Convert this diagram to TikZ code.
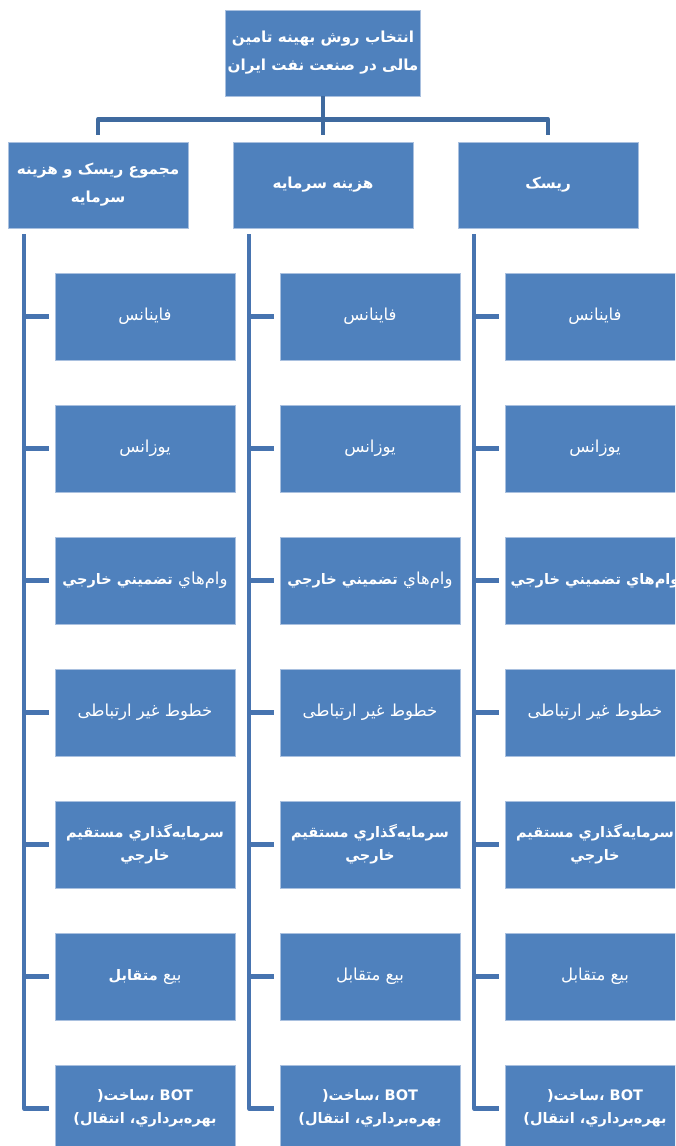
\documentclass[tikz,border=0pt]{standalone}
\usepackage{fontspec}
\usetikzlibrary{positioning,calc}
\TeXXeTstate=1
\newfontfamily\fa[Script=Arabic]{DejaVu Sans}
\definecolor{boxblue}{HTML}{4F81BD}
\definecolor{boxline}{HTML}{A9C0DF}
\definecolor{barblue}{HTML}{3F6A9F}
\definecolor{colblue}{HTML}{4774B0}
\newcommand{\rl}[1]{\beginR #1\endR}
\newcommand{\B}[1]{{\bfseries\fontsize{14.5}{23}\selectfont #1}}
\tikzset{
 tbox/.style={fill=boxblue,draw=boxline,line width=.6pt,text=white,
  minimum width=180pt,minimum height=87pt,inner sep=2pt,align=center,
  font=\fa\fontsize{16.5}{23}\selectfont},
 head/.style={tbox,font=\fa\bfseries\fontsize{15.2}{28}\selectfont},
 bar/.style={draw=barblue,line width=4.5pt,line join=round},
 link/.style={draw=colblue,line width=4.5pt,line join=round}}

\begin{document}
\begin{tikzpicture}[x=1pt,y=-1pt]
\useasboundingbox (0,0) rectangle (675,1146);
\clip (0,0) rectangle (675,1146);
% top of the chart
\node[head,minimum height=86pt] (title) at (323,53)
 {\rl{انتخاب روش بهینه تامین}\\\rl{مالی در صنعت نفت ایران}};
\node[head,minimum height=86pt] (sum) at (98,185)
 {\rl{مجموع ریسک و هزینه}\\\rl{سرمایه}};
\node[head,minimum height=86pt] (cost) at (323,185) {\rl{هزینه سرمایه}};
\node[head,minimum height=86pt] (risk) at (548,185) {\rl{ریسک}};
\coordinate (hub) at ([yshift=-23pt]title.south);
\draw[bar] (title.south) -- (hub);
\draw[bar] ([yshift=7pt]sum.north) |- (hub) -| ([yshift=7pt]risk.north);
\draw[bar] (hub) -- ([yshift=7pt]cost.north);
% the three columns
\foreach \c/\xl/\wam/\bey in {
 sum/8/{\rl{وام‌هاي \B{تضميني خارجي}}}/{\rl{بیع \B{متقابل}}},
 cost/233/{\rl{وام‌هاي \B{تضميني خارجي}}}/{\rl{بیع متقابل}},
 risk/458/{\B{\rl{وام‌هاي تضميني خارجي}}}/{\rl{بیع متقابل}}}{
 \foreach \i/\t in {1/{\rl{فاینانس}},2/{\rl{یوزانس}},3/{\wam},
  4/{\rl{خطوط غیر ارتباطی}},
  5/{\B{\rl{سرمايه‌گذاري مستقيم}}\\\B{\rl{خارجي}}},
  6/{\bey},
  7/{\B{\rl{BOT ،ساخت\mbox{(}}}\\\B{\rl{بهره‌برداري، انتقال\mbox{)}}}}}
  \node[tbox] (\c\i) at (\xl+137,316.5+132*\i-132) {\t};
 \coordinate (\c-top) at ([xshift=16.5pt,yshift=-6pt]\c.south west);
 \draw[link] (\c-top) |- ([xshift=-6pt]\c7.west);
 \foreach \i in {1,...,6}
  \draw[link] (\c-top |- \c\i.west) -- ([xshift=-6pt]\c\i.west);
}
\end{tikzpicture}
\end{document}
